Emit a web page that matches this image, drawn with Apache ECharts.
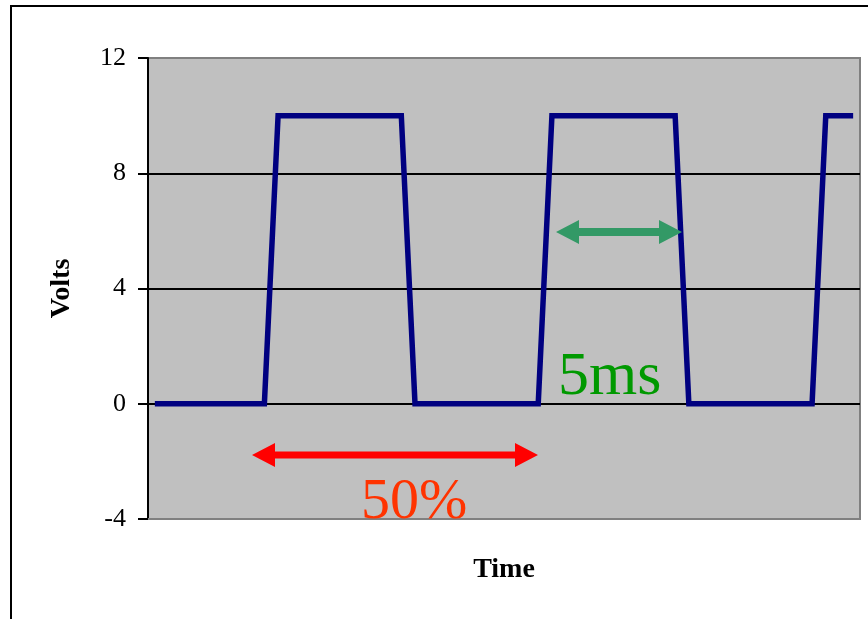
<!DOCTYPE html>
<html>
<head>
<meta charset="utf-8">
<script src="https://cdn.jsdelivr.net/npm/echarts@6/dist/echarts.min.js"></script>
<style>html,body{margin:0;padding:0;background:#fff;}#c{width:868px;height:619px;}</style>
</head>
<body>
<div id="c"></div>
<script>
// Data: 52 time samples of a square wave (volts)
var categories = [];
for (var k = 1; k <= 52; k++) categories.push(String(k));
var volts = [
  0,0,0,0,0,0,0,0,0,
  10,10,10,10,10,10,10,10,10,10,
  0,0,0,0,0,0,0,0,0,0,
  10,10,10,10,10,10,10,10,10,10,
  0,0,0,0,0,0,0,0,0,0,
  10,10,10
];
var yTicks = [-4, 0, 4, 8, 12];
var serif = '"Liberation Serif","Times New Roman",serif';

function arrow(x1, x2, y, head, halfH, halfShaft, color) {
  return {
    type: 'polygon', z: 100,
    shape: { points: [
      [x1, y], [x1 + head, y - halfH], [x1 + head, y - halfShaft],
      [x2 - head, y - halfShaft], [x2 - head, y - halfH], [x2, y],
      [x2 - head, y + halfH], [x2 - head, y + halfShaft],
      [x1 + head, y + halfShaft], [x1 + head, y + halfH]
    ]},
    style: { fill: color }
  };
}

var chart = echarts.init(document.getElementById('c'), null, {renderer: 'canvas'});
chart.setOption({
  animation: false,
  backgroundColor: '#ffffff',
  grid: {
    left: 148, top: 58, right: 8, bottom: 100,
    show: true, backgroundColor: '#C0C0C0', borderColor: '#808080', borderWidth: 2
  },
  xAxis: {
    type: 'category', data: categories, boundaryGap: true,
    name: 'Time', nameLocation: 'middle', nameGap: 37,
    nameTextStyle: { fontFamily: serif, fontWeight: 'bold', fontSize: 28, color: '#000' },
    axisLine: { show: true, onZero: false, lineStyle: { color: '#808080', width: 2 } },
    axisTick: { show: false }, axisLabel: { show: false }, splitLine: { show: false }
  },
  yAxis: {
    type: 'value', min: -4, max: 12, interval: 4,
    name: 'Volts', nameLocation: 'middle', nameGap: 72, nameRotate: 90,
    nameTextStyle: { fontFamily: serif, fontWeight: 'bold', fontSize: 28, color: '#000' },
    axisLine: { show: true, lineStyle: { color: '#000', width: 2 } },
    axisTick: { show: true, inside: false, length: 10, lineStyle: { color: '#000', width: 2 } },
    axisLabel: { fontFamily: serif, fontSize: 26, color: '#000', margin: 22,
      formatter: function (v) { return yTicks.indexOf(v) >= 0 ? String(v) : ''; } },
    splitLine: { show: true, lineStyle: { color: ['#808080', '#000', '#000', '#000', '#808080'], width: 2 } }
  },
  series: [{
    type: 'line', data: volts, showSymbol: false, symbol: 'none',
    lineStyle: { color: '#000080', width: 5.5, join: 'miter' },
    z: 5
  }],
  graphic: [
    { type: 'rect', z: 100, shape: { x: 11, y: 6, width: 1000, height: 1000 },
      style: { fill: 'none', stroke: '#000', lineWidth: 2 } },
    arrow(252, 538, 455, 23, 12, 3.5, '#FF0000'),
    arrow(556, 682, 232, 23, 12, 4, '#339966'),
    { type: 'text', z: 101, x: 361, y: 503,
      style: { text: '50%', fill: '#FF3300', font: '58px ' + serif, textVerticalAlign: 'middle', verticalAlign: 'middle' } },
    { type: 'text', z: 101, x: 558, y: 378,
      style: { text: '5ms', fill: '#009900', font: '62px ' + serif, textVerticalAlign: 'middle', verticalAlign: 'middle' } }
  ]
});
</script>
</body>
</html>
